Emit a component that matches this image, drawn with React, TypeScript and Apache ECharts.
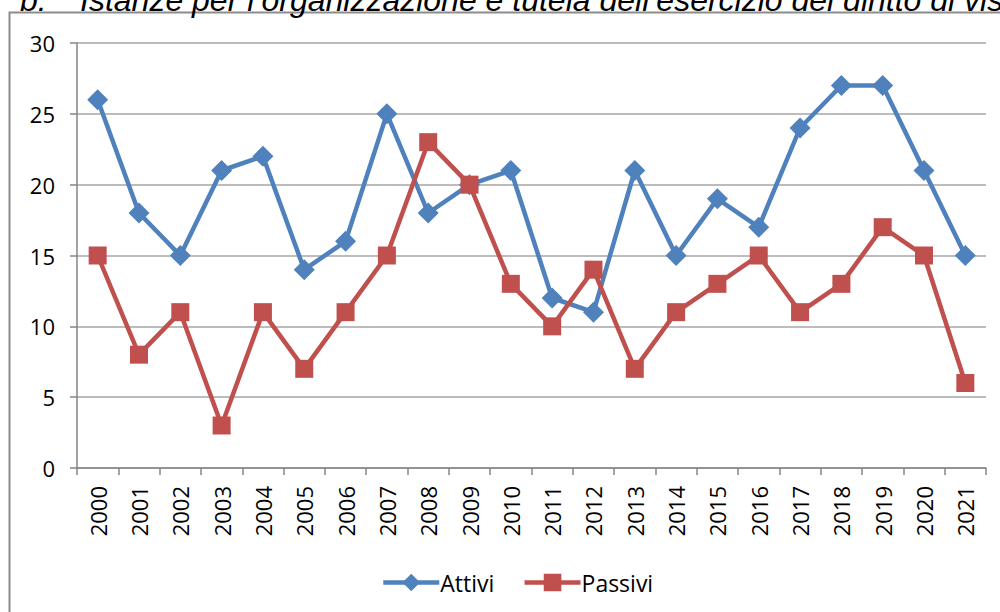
import React, { useEffect, useRef } from "react";
import * as echarts from "echarts";

const years = ["2000","2001","2002","2003","2004","2005","2006","2007","2008","2009","2010","2011","2012","2013","2014","2015","2016","2017","2018","2019","2020","2021"];
const attivi = [26, 18, 15, 21, 22, 14, 16, 25, 18, 20, 21, 12, 11, 21, 15, 19, 17, 24, 27, 27, 21, 15];
const passivi = [15, 8, 11, 3, 11, 7, 11, 15, 23, 20, 13, 10, 14, 7, 11, 13, 15, 11, 13, 17, 15, 6];
const yTicks = { min: 0, max: 30, interval: 5 };
const titlePrefix = "b.";
const titleText = "Istanze per l’organizzazione e tutela dell’esercizio del diritto di visita";

const FONT = "'Open Sans', 'Noto Sans', sans-serif";

export default function App() {
  const ref = useRef<HTMLDivElement>(null);
  useEffect(() => {
    if (!ref.current) return;
    const chart = echarts.init(ref.current, undefined, { renderer: "svg" });
    chart.setOption({
      animation: false,
      backgroundColor: "#ffffff",
      textStyle: { fontFamily: FONT },
      graphic: [
        {
          type: "rect",
          shape: { x: 9.5, y: 12.5, width: 1000, height: 620 },
          style: { fill: "none", stroke: "#8c8c8c", lineWidth: 2 },
          silent: true,
        },
        {
          type: "text",
          x: 20,
          y: 16,
          style: {
            text: titlePrefix,
            font: "italic 32px 'Liberation Sans', Arial, sans-serif",
            fill: "#000",
            verticalAlign: "bottom",
          },
        },
        {
          type: "text",
          x: 80,
          y: 16,
          style: {
            text: titleText,
            font: "italic 32px 'Liberation Sans', Arial, sans-serif",
            fill: "#000",
            verticalAlign: "bottom",
          },
        },
      ],
      grid: { left: 77, right: 14, top: 43, bottom: 144, containLabel: false },
      legend: {
        bottom: 13,
        left: 376,
        itemWidth: 56,
        itemHeight: 22,
        itemGap: 28,
        lineStyle: { width: 4.5 },
        textStyle: { fontSize: 23, color: "#000", fontFamily: FONT, padding: [0, 0, 0, -4] },
        data: ["Attivi", "Passivi"],
      },
      xAxis: {
        type: "category",
        data: years,
        boundaryGap: true,
        axisLine: { lineStyle: { color: "#868686", width: 1.5 } },
        axisTick: { show: true, length: 7, lineStyle: { color: "#868686", width: 1.5 } },
        axisLabel: { rotate: 90, fontSize: 22, color: "#000", margin: 18, fontFamily: FONT },
        splitLine: { show: false },
      },
      yAxis: {
        type: "value",
        min: yTicks.min,
        max: yTicks.max,
        interval: yTicks.interval,
        axisLine: { show: true, lineStyle: { color: "#868686", width: 1.5 } },
        axisTick: { show: true, length: 7, lineStyle: { color: "#868686", width: 1.5 } },
        axisLabel: { fontSize: 22, color: "#000", margin: 22, fontFamily: FONT },
        splitLine: { show: true, lineStyle: { color: "#a6a6a6", width: 1.5 } },
      },
      series: [
        {
          name: "Attivi",
          type: "line",
          data: attivi,
          symbol: "diamond",
          symbolSize: 21,
          itemStyle: { color: "#4f81bd" },
          lineStyle: { color: "#4f81bd", width: 4.5 },
        },
        {
          name: "Passivi",
          type: "line",
          data: passivi,
          symbol: "rect",
          symbolSize: 18,
          itemStyle: { color: "#c0504d" },
          lineStyle: { color: "#c0504d", width: 4.5 },
        },
      ],
    });
    return () => chart.dispose();
  }, []);
  return (
    <div
      ref={ref}
      style={{ position: "fixed", left: 0, top: 0, width: 1000, height: 612 }}
    />
  );
}
